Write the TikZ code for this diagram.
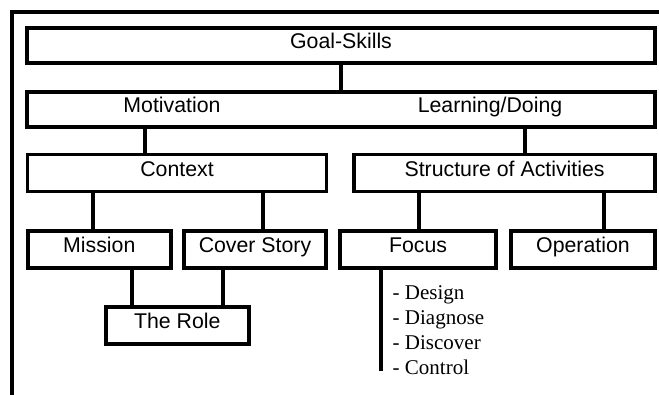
\documentclass[tikz,border=0pt]{standalone}
\usepackage{fontspec}
\setmainfont{Liberation Sans}
\newfontfamily\listfont{Liberation Serif}
\begin{document}
\begin{tikzpicture}[x=1pt,y=-1pt,
  box/.style={draw, line width=3.8pt, inner sep=0pt, text height=15pt, text depth=9pt, font=\fontsize{21.3}{25}\selectfont},
  conn/.style={line width=3.8pt},
  frameline/.style={line width=4pt},
  lbl/.style={inner sep=0pt, text height=15pt, text depth=9pt, font=\fontsize{21.3}{25}\selectfont},
  item/.style={inner sep=0pt, anchor=base west, font=\listfont\fontsize{21}{25}\selectfont}]
\useasboundingbox (0,0) rectangle (659,394);
\clip (0,0) rectangle (659,394);
\draw[frameline] (12,400) -- (12,12) -- (670,12);

\node[box, minimum width=628pt, minimum height=35pt] (goal) at (341,45.5) {Goal-Skills};
\node[box, minimum width=628pt, minimum height=35pt] (ml) at (341,109.7) {};
\node[lbl] (mot) at (172,109.7) {Motivation};
\node[lbl] (learn) at (490,109.7) {Learning/Doing};
\node[box, minimum width=299pt, minimum height=37pt] (ctx) at (177,173) {Context};
\node[box, minimum width=301pt, minimum height=37pt] (soa) at (504.6,173) {Structure of Activities};
\node[box, minimum width=143pt, minimum height=37pt] (mis) at (99.3,249.5) {Mission};
\node[box, minimum width=142pt, minimum height=37pt] (cov) at (255,249.5) {Cover Story};
\node[box, minimum width=143pt, minimum height=37pt] (role) at (177.3,325.2) {The Role};
\node[box, minimum width=156pt, minimum height=37pt] (foc) at (418,249.5) {Focus};
\node[box, minimum width=144pt, minimum height=37pt] (op) at (583,249.5) {Operation};

\coordinate (xa) at (145.3,0);
\coordinate (xb) at (525,0);
\coordinate (xc) at (92.7,0);
\coordinate (xd) at (262.7,0);
\coordinate (xe) at (132,0);
\coordinate (xf) at (223.3,0);
\coordinate (xg) at (419.3,0);
\coordinate (xh) at (603.7,0);
\coordinate (xi) at (381,0);
\coordinate (fend) at (381,371);

\draw[conn] (goal.south) -- (goal.south |- ml.north);
\draw[conn] (ml.south -| xa) -- (ctx.north -| xa);
\draw[conn] (ml.south -| xb) -- (soa.north -| xb);
\draw[conn] (ctx.south -| xc) -- (mis.north -| xc);
\draw[conn] (ctx.south -| xd) -- (cov.north -| xd);
\draw[conn] (mis.south -| xe) -- (role.north -| xe);
\draw[conn] (cov.south -| xf) -- (role.north -| xf);
\draw[conn] (soa.south -| xg) -- (foc.north -| xg);
\draw[conn] (soa.south -| xh) -- (op.north -| xh);
\draw[conn] (foc.south -| xi) -- (fend);

\node[item] (i1) at (392.5,299.3) {- Design};
\node[item] (i2) at (392.5,324.3) {- Diagnose};
\node[item] (i3) at (392.5,349.3) {- Discover};
\node[item] (i4) at (392.5,374.3) {- Control};
\end{tikzpicture}
\end{document}
